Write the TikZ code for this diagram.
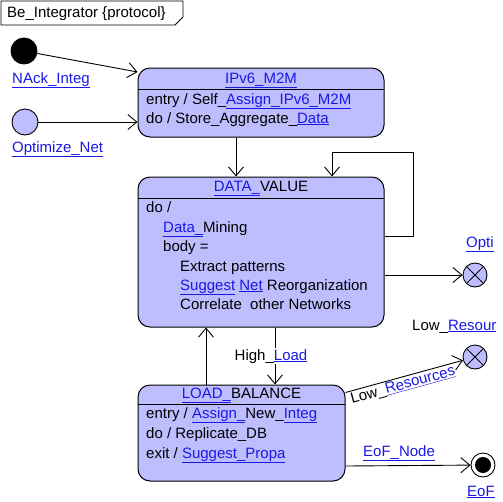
\documentclass[tikz,border=0pt]{standalone}
\usepackage{fontspec}
\setmainfont{Liberation Sans}
\usetikzlibrary{arrows.meta}
\tikzset{>={Straight Barb[length=9pt,width=15pt]}}
\definecolor{StateFill}{RGB}{190,190,255}
\definecolor{LinkBlue}{RGB}{25,25,230}
\newcommand{\lnk}[1]{\textcolor{LinkBlue}{\underline{#1}}}
\tikzset{
  state/.style={draw,line width=1pt,fill=StateFill,rounded corners=12pt,inner sep=0pt},
  txt/.style={anchor=west,inner sep=0pt,text height=11pt,text depth=3pt},
  ttl/.style={inner sep=0pt,text height=11pt,text depth=3pt},
  trans/.style={->,line width=0.9pt},
  pseudo/.style={circle,draw,line width=0.9pt,minimum size=26pt,inner sep=0pt},
  exitpt/.style={pseudo,minimum size=24pt,fill=StateFill,
    path picture={\draw[line width=0.9pt] (path picture bounding box.north west) -- (path picture bounding box.south east)
      (path picture bounding box.north east) -- (path picture bounding box.south west);}},
  finalpt/.style={pseudo,minimum size=24pt,fill=white,
    path picture={\fill[black] (path picture bounding box.center) circle (8pt);}},
}

\begin{document}
\begin{tikzpicture}[x=1pt,y=-1pt,font=\fontsize{15}{18}\selectfont]
		\useasboundingbox[fill=white] (0,0) rectangle (503,501);

		% frame label
		\draw[line width=0.8pt] (1,1) -- (183,1) -- (183,17) -- (175,25) -- (1,25) -- cycle;
		\node[txt] (frame) at (7,13) {Be\_Integrator \{protocol\}};

		% pseudo states
		\node[pseudo,fill=black] (init) at (24,51) {};
		\node[txt] (initlbl) at (12,79) {\lnk{NAck\_Integ}};
		\node[pseudo,fill=StateFill] (entry) at (25,122) {};
		\node[txt] (entrylbl) at (12,148) {\lnk{Optimize\_Net}};

		% IPv6_M2M state
		\node[state,minimum width=246pt,minimum height=69pt] (ipv6) at (261,102.5) {};
		\draw[line width=0.8pt] (138,89) -- (384,89);
		\node[ttl] (ipv6ttl) at (261,79) {\lnk{IPv6\_M2M}};
		\node[txt] (ipv6a) at (146,100) {entry / Self\_\lnk{Assign\_IPv6\_M2M}};
		\node[txt] (ipv6b) at (146,119) {do / Store\_Aggregate\_\lnk{Data}};

		% DATA_VALUE state
		\node[state,minimum width=246pt,minimum height=150pt] (dv) at (261,252) {};
		\draw[line width=0.8pt] (138,198) -- (384,198);
		\node[ttl] (dvttl) at (261,187) {\lnk{DATA\_}VALUE};
		\node[txt] (dva) at (146,208) {do /};
		\node[txt] (dvb) at (163,228) {\lnk{Data\_}Mining};
		\node[txt] (dvc) at (163,247) {body =};
		\node[txt] (dvd) at (180,267) {Extract patterns};
		\node[txt] (dve) at (180,286) {\lnk{Suggest} \lnk{Net} Reorganization};
		\node[txt] (dvf) at (180,305) {Correlate\ \ other Networks};

		% LOAD_BALANCE state
		\node[state,minimum width=207pt,minimum height=96pt] (lb) at (241.5,433) {};
		\draw[line width=0.8pt] (138,404) -- (345,404);
		\node[ttl] (lbttl) at (241.5,394) {\lnk{LOAD\_}BALANCE};
		\node[txt] (lba) at (146,414) {entry / \lnk{Assign\_}New\_\lnk{Integ}};
		\node[txt] (lbb) at (146,434) {do / Replicate\_DB};
		\node[txt] (lbc) at (146,454) {exit / \lnk{Suggest\_Propa}};

		% exit points and final state
		\node[exitpt] (opti) at (475,275) {};
		\node[txt] (optilbl) at (466,243) {\lnk{Opti}};
		\node[exitpt] (lowres) at (475,357) {};
		\node[txt] (lowreslbl) at (412,326) {Low\_\lnk{Resour}};
		\node[finalpt] (eof) at (483,465) {};
		\node[txt] (eoflbl) at (467,492) {\lnk{EoF}};

		% transitions
		\draw[trans] (init) -- ([yshift=30.5pt]ipv6.west);
		\draw[trans] (entry) -- ([yshift=-19.5pt]ipv6.west);
		\draw[trans] ([xshift=-25pt]ipv6.south) -- ([xshift=-25pt]dv.north);
		\coordinate (loopa) at (413,236);
		\coordinate (loopb) at (332,152);
		\draw[trans] ([yshift=16pt]dv.east) -- (loopa) |- (loopb) -- ([xshift=71pt]dv.north);
		\draw[trans] ([yshift=-23pt]dv.east) -- (opti);
		\draw[trans] ([xshift=-35.5pt]lb.north) -- ([xshift=-55pt]dv.south);
		\draw[trans] ([xshift=14pt]dv.south) -- node[fill=white,inner sep=1pt,text height=11pt,text depth=3pt,xshift=-4pt] (highlbl) {High\_\lnk{Load}} ([xshift=33.5pt]lb.north);
		\draw[trans] ([yshift=-8pt]lb.north east) -- node[sloped,anchor=north,pos=0.47,inner sep=1.5pt] (lowlbl) {Low\_\lnk{Resources}} (lowres);
		\draw[trans] ([yshift=-33pt]lb.east) -- (eof);
		\node[txt] (eofnode) at (363,452) {\lnk{EoF\_Node}};

	\end{tikzpicture}
\end{document}
